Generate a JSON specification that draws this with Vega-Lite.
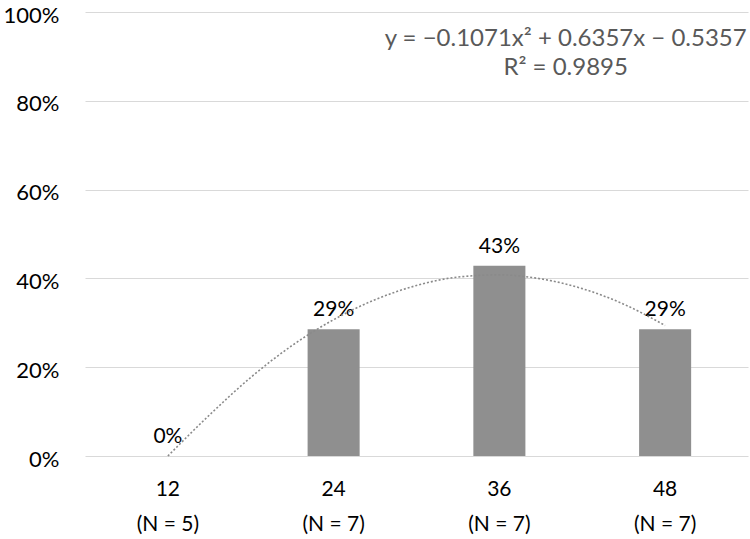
{
  "$schema": "https://vega.github.io/schema/vega-lite/v6.json",
  "width": 663,
  "height": 444,
  "autosize": {"type": "none"},
  "padding": {"left": 85, "top": 12, "right": 2, "bottom": 83},
  "background": "white",
  "config": {"view": {"stroke": null}, "font": "Lato"},
  "layer": [
    {
      "data": {"values": [
        {"cat": "12|(N = 5)", "pct": 0},
        {"cat": "24|(N = 7)", "pct": 0.2857},
        {"cat": "36|(N = 7)", "pct": 0.4286},
        {"cat": "48|(N = 7)", "pct": 0.2857}
      ]},
      "encoding": {
        "x": {"field": "cat", "type": "ordinal", "sort": null,
          "scale": {"paddingInner": 0.686, "paddingOuter": 0.343},
          "axis": {"title": null, "labelAngle": 0, "labelExpr": "split(datum.label, '|')",
            "labelFontSize": 21, "labelLineHeight": 35, "labelPadding": 22,
            "labelColor": "#000000", "ticks": false, "domain": false}},
        "y": {"field": "pct", "type": "quantitative",
          "scale": {"domain": [0, 1], "nice": false},
          "axis": {"title": null, "values": [0, 0.2, 0.4, 0.6, 0.8, 1], "format": ".0%",
            "labelFontSize": 22, "labelColor": "#000000", "labelPadding": 26, "labelOffset": 3,
            "ticks": false, "domain": false, "gridColor": "#d9d9d9", "gridWidth": 1.2}}
      },
      "layer": [
        {"mark": {"type": "bar", "color": "#8f8f8f"}},
        {"mark": {"type": "text", "baseline": "bottom", "dy": -9, "fontSize": 21, "color": "#000000"},
         "encoding": {"text": {"field": "pct", "type": "quantitative", "format": ".0%"}}}
      ]
    },
    {
      "data": {"values": [
        {"t": 1.0, "v": 0.0},
        {"t": 1.25, "v": 0.092},
        {"t": 1.5, "v": 0.177},
        {"t": 1.75, "v": 0.249},
        {"t": 2.0, "v": 0.307},
        {"t": 2.25, "v": 0.352},
        {"t": 2.5, "v": 0.384},
        {"t": 2.75, "v": 0.403},
        {"t": 3.0, "v": 0.408},
        {"t": 3.25, "v": 0.399},
        {"t": 3.5, "v": 0.377},
        {"t": 3.75, "v": 0.342},
        {"t": 4.0, "v": 0.294}
      ]},
      "mark": {"type": "line", "color": "#8a8a8a", "strokeWidth": 1.6, "strokeDash": [2, 2], "interpolate": "monotone"},
      "encoding": {
        "x": {"field": "t", "type": "quantitative", "scale": {"domain": [0.5, 4.5], "nice": false, "zero": false}, "axis": null},
        "y": {"field": "v", "type": "quantitative"}
      }
    },
    {
      "data": {"values": [
        {"t": 3.4, "v": 0.939, "label": "y = −0.1071x² + 0.6357x − 0.5357"},
        {"t": 3.4, "v": 0.874, "label": "R² = 0.9895"}
      ]},
      "mark": {"type": "text", "fontSize": 24, "color": "#595959", "baseline": "middle", "align": "center"},
      "encoding": {
        "x": {"field": "t", "type": "quantitative", "scale": {"domain": [0.5, 4.5], "nice": false, "zero": false}, "axis": null},
        "y": {"field": "v", "type": "quantitative"},
        "text": {"field": "label"}
      }
    }
  ],
  "resolve": {"scale": {"x": "independent"}}
}
